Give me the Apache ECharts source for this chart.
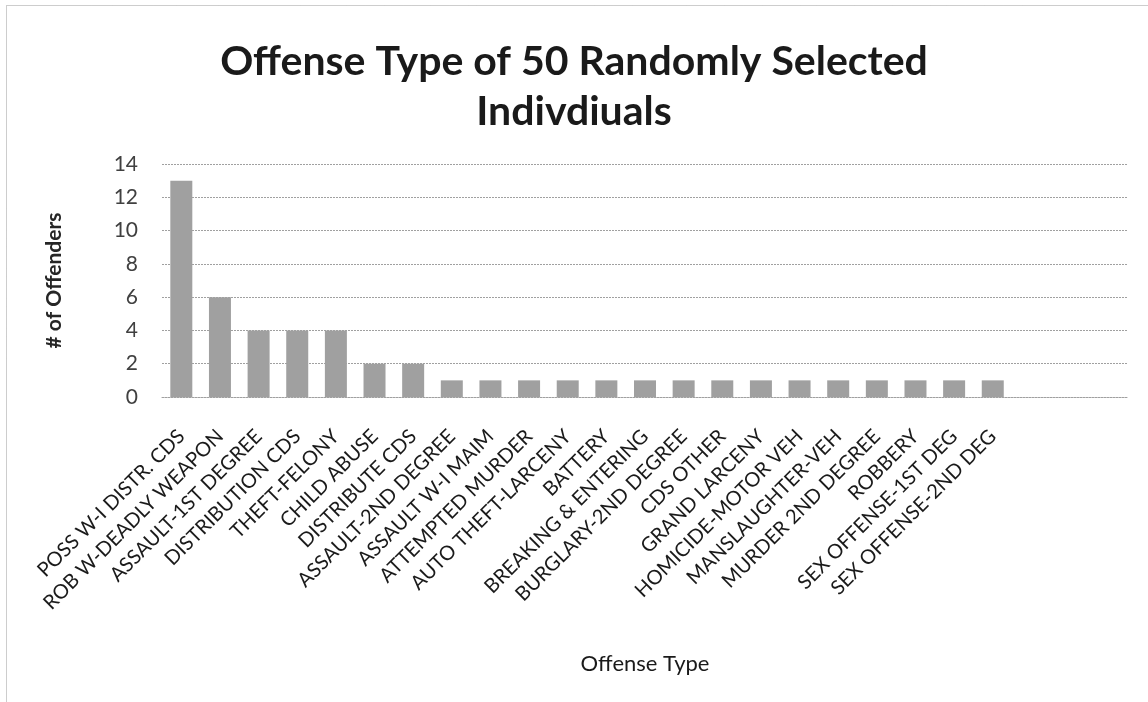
<!DOCTYPE html>
<html>
<head>
<meta charset="utf-8">
<script src="https://cdn.jsdelivr.net/npm/echarts@6/dist/echarts.min.js"></script>
<style>
  html, body { margin: 0; padding: 0; background: #fff; }
  #chart { width: 1148px; height: 702px; }
</style>
</head>
<body>
<div id="chart"></div>
<script>
// offense categories, in the order shown on the x axis
const offenses = [
  'POSS W-I DISTR. CDS', 'ROB W-DEADLY WEAPON', 'ASSAULT-1ST DEGREE', 'DISTRIBUTION CDS',
  'THEFT-FELONY', 'CHILD ABUSE', 'DISTRIBUTE CDS', 'ASSAULT-2ND DEGREE',
  'ASSAULT W-I MAIM', 'ATTEMPTED MURDER', 'AUTO THEFT-LARCENY', 'BATTERY',
  'BREAKING & ENTERING', 'BURGLARY-2ND DEGREE', 'CDS OTHER', 'GRAND LARCENY',
  'HOMICIDE-MOTOR VEH', 'MANSLAUGHTER-VEH', 'MURDER 2ND DEGREE', 'ROBBERY',
  'SEX OFFENSE-1ST DEG', 'SEX OFFENSE-2ND DEG'
]
// three empty slots at the end of the axis (no label, no bar)
const emptySlots = ['', ' ', '  ']
const offenders = [13, 6, 4, 4, 4, 2, 2, 1, 1, 1, 1, 1, 1, 1, 1, 1, 1, 1, 1, 1, 1, 1]
const yTicks = { min: 0, max: 14, step: 2 }

const categories = offenses.concat(emptySlots)
const font = 'Lato, "Open Sans", sans-serif'

const chart = echarts.init(document.getElementById('chart'))
chart.setOption({
  backgroundColor: '#fff',
  animation: false,
  title: {
    text: 'Offense Type of 50 Randomly Selected\nIndivdiuals',
    left: 'center',
    top: 32,
    textStyle: {
      fontFamily: font,
      fontSize: 41,
      fontWeight: 'bold',
      lineHeight: 50,
      color: '#1a1a1a'
    }
  },
  graphic: [{
    type: 'rect',
    shape: { x: 6.5, y: 5.5, width: 1200, height: 720 },
    style: { fill: 'none', stroke: '#9a9a9a', lineWidth: 1, lineDash: [1, 1] },
    silent: true
  }],
  grid: {
    left: 162,
    right: 20,
    top: 164,
    bottom: 305
  },
  xAxis: {
    type: 'category',
    data: categories,
    name: 'Offense Type',
    nameLocation: 'middle',
    nameGap: 256,
    nameTextStyle: { fontFamily: font, fontSize: 22, color: '#1a1a1a' },
    axisLine: { lineStyle: { color: '#a0a0a0', type: [2, 1] } },
    axisTick: { show: false },
    axisLabel: {
      interval: 0,
      rotate: 45,
      margin: 36,
      fontFamily: font,
      fontSize: 20,
      color: '#1a1a1a'
    }
  },
  yAxis: {
    type: 'value',
    min: yTicks.min,
    max: yTicks.max,
    interval: yTicks.step,
    name: '# of Offenders',
    nameLocation: 'middle',
    nameGap: 97,
    nameTextStyle: { fontFamily: font, fontSize: 21, fontWeight: 'bold', color: '#262626' },
    axisLine: { show: false },
    axisTick: { show: false },
    axisLabel: { fontFamily: font, fontSize: 21, color: '#404040', margin: 24 },
    splitLine: { lineStyle: { color: '#a0a0a0', type: [2, 1] } }
  },
  series: [{
    name: '# of Offenders',
    type: 'bar',
    barWidth: 22,
    data: offenders,
    itemStyle: { color: '#a0a0a0' }
  }]
})
</script>
</body>
</html>
